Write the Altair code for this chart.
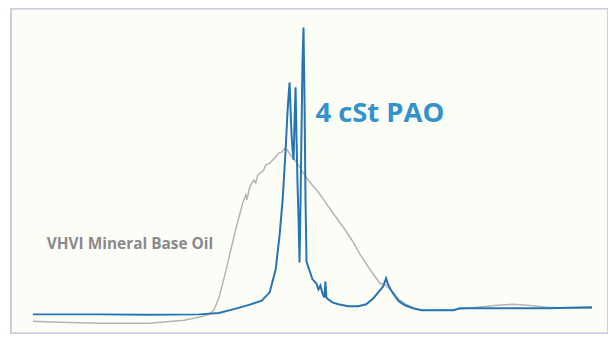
import altair as alt
import pandas as pd

# Retention time (min) and detector response (% of full scale)
blue_t = [2.2, 8.9, 13.9, 18.9, 20.9, 22.5, 24.0, 25.2, 26.0, 26.6, 27.0, 27.3, 27.6, 27.8, 27.9, 28.0,
          28.1, 28.2, 28.3, 28.4, 28.5, 28.6, 28.7, 28.8, 28.9, 29.0, 29.1, 29.2, 29.3, 29.4, 29.5, 29.6,
          29.7, 29.9, 30.3, 30.7, 30.9, 31.1, 31.3, 31.5, 31.6, 31.7, 31.9, 32.3, 32.9, 33.9, 34.9, 35.7,
          36.4, 37.0, 37.4, 37.7, 37.9, 38.2, 38.6, 39.0, 39.6, 40.4, 41.3, 42.9, 44.5, 45.1, 48.9, 53.9, 58.4]
blue_s = [5.8, 5.8, 5.7, 5.8, 6.2, 7.5, 8.8, 10.0, 12.6, 19.6, 30.4, 41.1, 56.4, 68.7, 73.3, 77.3,
          68.7, 61.0, 56.4, 53.4, 65.6, 75.8, 59.5, 45.7, 35.0, 21.8, 41.1, 62.6, 84.0, 94.2, 71.8, 41.1,
          22.1, 20.2, 16.6, 15.3, 13.5, 14.7, 12.3, 11.0, 15.9, 11.0, 10.4, 9.5, 8.9, 8.3, 8.3, 8.9,
          10.7, 12.9, 14.4, 16.9, 15.0, 13.2, 11.3, 9.8, 8.6, 7.7, 7.1, 7.1, 7.1, 7.7, 7.7, 7.7, 8.0]

gray_t = [2.2, 4.9, 8.9, 13.9, 17.4, 18.9, 19.9, 20.4, 20.9, 21.3, 21.7, 22.1, 22.5, 22.9, 23.3, 23.6,
          23.7, 24.0, 24.4, 24.6, 24.8, 25.2, 25.4, 25.6, 26.0, 26.3, 26.6, 26.9, 27.2, 27.5, 27.8, 28.1,
          28.5, 28.9, 29.5, 30.1, 30.7, 31.3, 31.9, 32.7, 33.5, 34.3, 35.1, 35.8, 36.5, 37.1, 37.6, 37.9,
          38.4, 39.0, 39.7, 40.5, 41.3, 42.9, 44.9, 46.9, 48.9, 50.4, 51.9, 53.9, 56.4, 58.4]
gray_s = [3.7, 3.4, 3.1, 3.1, 4.0, 4.9, 5.8, 7.1, 11.0, 15.6, 20.6, 25.8, 31.0, 35.6, 40.2, 42.6,
          41.1, 45.1, 47.2, 46.3, 48.8, 49.7, 50.3, 51.8, 52.4, 53.4, 54.3, 55.5, 55.8, 57.0, 56.4, 54.9,
          53.4, 51.8, 48.8, 46.3, 44.2, 41.7, 39.0, 35.6, 32.2, 28.5, 24.2, 20.9, 17.8, 15.3, 15.0, 14.1,
          12.6, 10.4, 8.9, 7.7, 7.1, 7.1, 7.4, 8.0, 8.6, 8.9, 8.6, 8.0, 7.7, 7.7]

label_text = ["VHVI Mineral Base Oil", "4 cSt PAO"]
label_t = [3.6, 30.6]
label_s = [27.6, 67.5]

blue = pd.DataFrame({"t": blue_t, "s": blue_s})
gray = pd.DataFrame({"t": gray_t, "s": gray_s})

xs = alt.Scale(domain=[0, 60], nice=False, zero=False)
ys = alt.Scale(domain=[0, 100], nice=False, zero=False)
X = alt.X("t:Q", scale=xs, axis=None)
Y = alt.Y("s:Q", scale=ys, axis=None)

gray_line = alt.Chart(gray).mark_line(color="#b4b4b4", strokeWidth=1.5).encode(x=X, y=Y, order="t:Q")
blue_line = alt.Chart(blue).mark_line(color="#2574b4", strokeWidth=2).encode(x=X, y=Y, order="t:Q")

lab1 = alt.Chart(pd.DataFrame({"t": label_t[:1], "s": label_s[:1], "txt": label_text[:1]})).mark_text(
    align="left", baseline="middle", font="Open Sans", fontWeight="bold", fontSize=15.5, color="#8a8a8a"
).encode(x=X, y=Y, text="txt:N")
lab2 = alt.Chart(pd.DataFrame({"t": label_t[1:], "s": label_s[1:], "txt": label_text[1:]})).mark_text(
    align="left", baseline="middle", font="Open Sans", fontWeight="bold", fontSize=27.5, color="#3192cc"
).encode(x=X, y=Y, text="txt:N")

chart = alt.layer(gray_line, blue_line, lab1, lab2).properties(
    width=600, height=326,
    autosize=alt.AutoSizeParams(type="none"),
    padding={"left": 3, "top": 0, "right": 0, "bottom": 0},
    background="#ffffff",
).configure_view(stroke="#cfcbe3", strokeWidth=2, fill="#fdfdf8")

chart.save("out.html", embed_options={"renderer": "svg", "actions": False})
